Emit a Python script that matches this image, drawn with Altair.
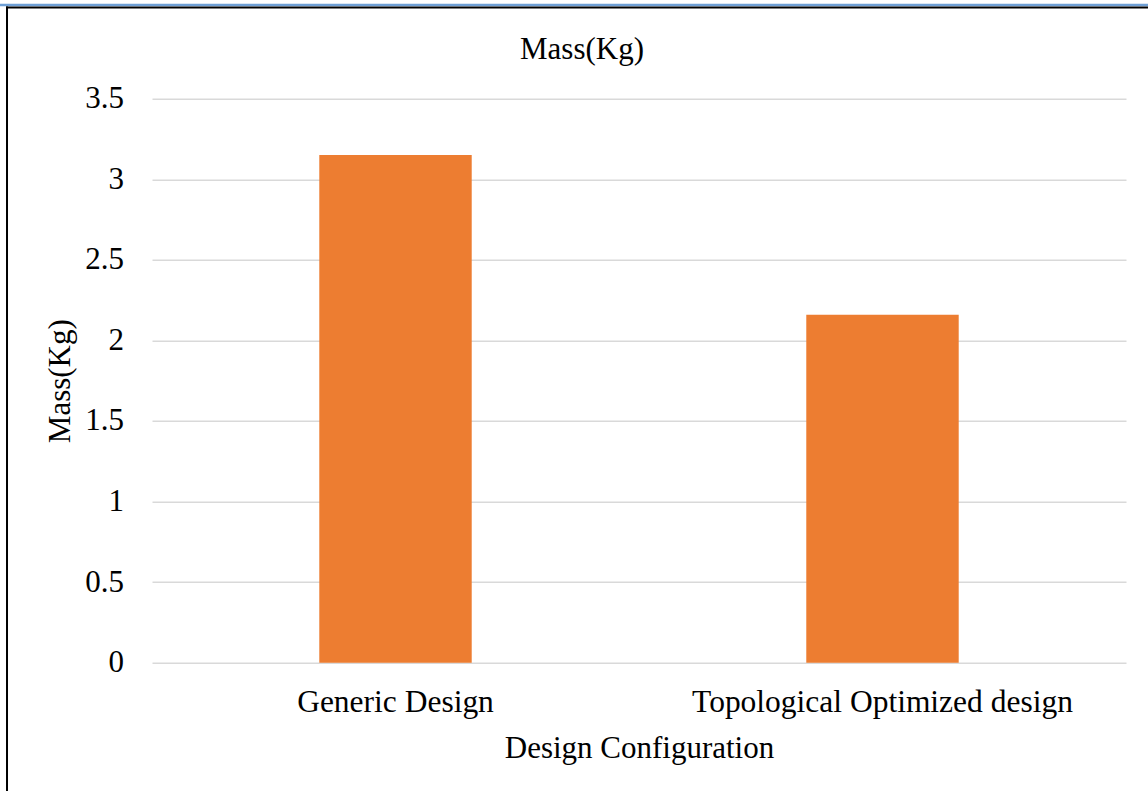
import altair as alt
import pandas as pd

# Bar data: mass of each design configuration
designs = ["Generic Design", "Topological Optimized design"]
mass_kg = [3.15, 2.16]

y_ticks = [0, 0.5, 1, 1.5, 2, 2.5, 3, 3.5]

FONT = "Liberation Serif"
PLOT_W, PLOT_H = 974, 564
PAD_L, PAD_T = 152, 98.7

df = pd.DataFrame({"design": designs, "mass": mass_kg})

bars = (
    alt.Chart(df)
    .mark_bar(color="#ED7D31")
    .encode(
        x=alt.X(
            "design:N",
            sort=designs,
            scale=alt.Scale(paddingInner=0.687, paddingOuter=0.3435),
            axis=alt.Axis(
                title="Design Configuration",
                labelAngle=0,
                labelFont=FONT,
                labelFontSize=31.5,
                labelColor="#000000",
                labelBaseline="alphabetic",
                labelPadding=49,
                labelLimit=0,
                ticks=False,
                tickSize=0,
                domain=False,
                titleFont=FONT,
                titleFontSize=31,
                titleFontWeight="normal",
                titleColor="#000000",
                titleBaseline="alphabetic",
                titleAlign="center",
                titleX=PLOT_W / 2,
                titleY=95,
            ),
        ),
        y=alt.Y(
            "mass:Q",
            scale=alt.Scale(domain=[0, 3.5], nice=False),
            axis=alt.Axis(
                title="Mass(Kg)",
                values=y_ticks,
                format="~g",
                labelFont=FONT,
                labelFontSize=31,
                labelColor="#000000",
                labelPadding=28.5,
                ticks=False,
                tickSize=0,
                domain=False,
                grid=True,
                gridColor="#D9D9D9",
                gridWidth=1.5,
                titleFont=FONT,
                titleFontSize=31,
                titleFontWeight="normal",
                titleColor="#000000",
                titleBaseline="alphabetic",
                titleAlign="center",
                titleAngle=270,
                titleX=-83,
                titleY=PLOT_H / 2,
            ),
        ),
    )
)

one = pd.DataFrame({"k": [0]})

# Frame lines around the figure: blue rule on top, black rules inside it
blue_top = alt.Chart(one).mark_rule(color="#6E9FD5", strokeWidth=2.3).encode(
    x=alt.value(-PAD_L), x2=alt.value(1148 - PAD_L), y=alt.value(5 - PAD_T)
)
black_top = alt.Chart(one).mark_rule(color="#000000", strokeWidth=2).encode(
    x=alt.value(6 - PAD_L), x2=alt.value(1148 - PAD_L), y=alt.value(7.6 - PAD_T)
)
black_left = alt.Chart(one).mark_rule(color="#000000", strokeWidth=2).encode(
    x=alt.value(7 - PAD_L), y=alt.value(6.6 - PAD_T), y2=alt.value(791 - PAD_T)
)

# The frame rules raise the top of the layout bounds to the page edge,
# so the title offset is counted back down from there.
chart = (
    alt.layer(bars, blue_top, black_top, black_left)
    .properties(
        width=PLOT_W,
        height=PLOT_H,
        padding={"left": PAD_L, "top": PAD_T, "right": 22, "bottom": 128},
        autosize=alt.AutoSizeParams(type="none"),
        background="#FFFFFF",
        title=alt.TitleParams(
            "Mass(Kg)",
            font=FONT,
            fontSize=31,
            fontWeight="normal",
            color="#000000",
            anchor="middle",
            frame="group",
            baseline="alphabetic",
            offset=-86,
            dx=-57,
        ),
    )
    .configure_view(stroke=None)
)

chart.save("out.html", embed_options={"renderer": "svg", "actions": False})
